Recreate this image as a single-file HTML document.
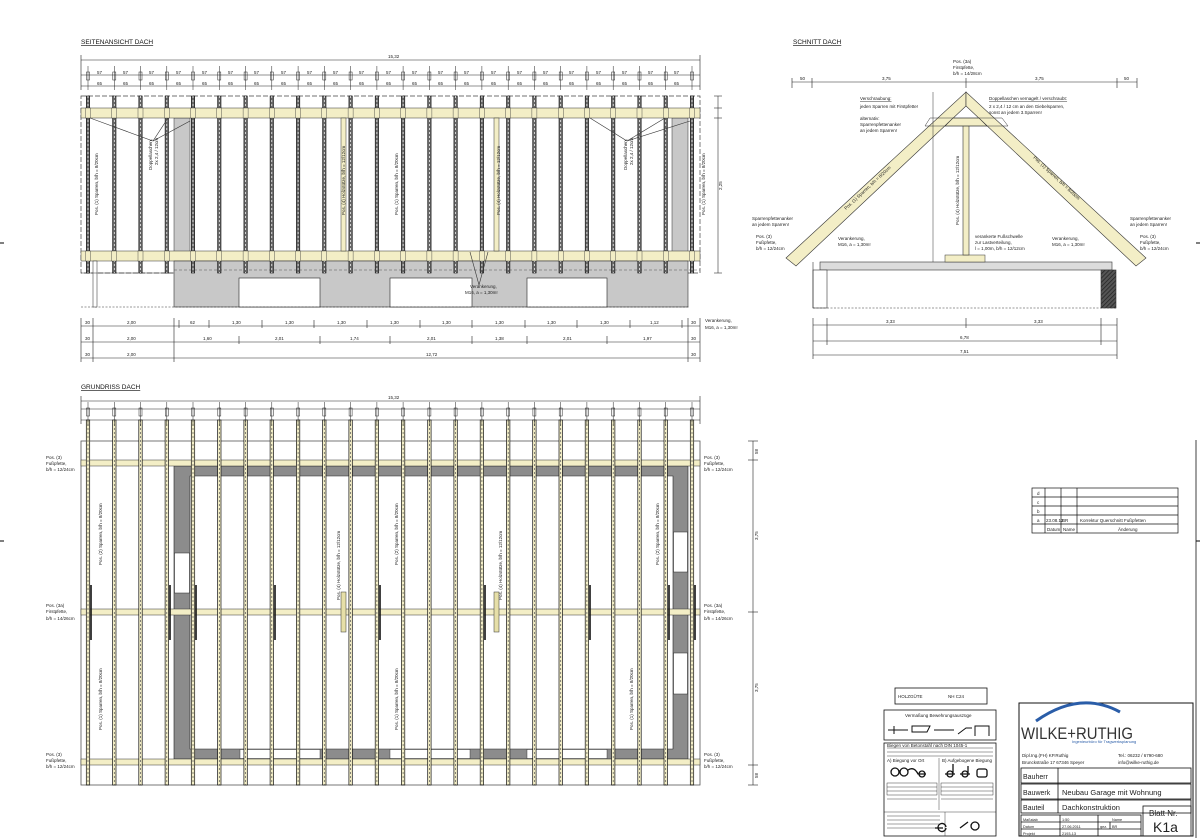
<!DOCTYPE html>
<html><head><meta charset="utf-8">
<style>
html,body{margin:0;padding:0;background:#fff;}
svg{display:block;font-family:"Liberation Sans",sans-serif;}
.t{font-size:4.5px;fill:#222;}
.h{font-size:6.5px;fill:#111;text-decoration:underline;}
</style></head><body>
<svg width="1200" height="838" viewBox="0 0 1200 838" xmlns="http://www.w3.org/2000/svg">
<defs>
<g id="raf">
 <rect x="-1.7" y="0" width="3.4" height="177" fill="#666" stroke="#111" stroke-width="0.6"/>
 <line x1="0" y1="0" x2="0" y2="177" stroke="#fff" stroke-width="0.7" stroke-dasharray="2,2"/>
 <rect x="-2.5" y="12" width="5" height="10" fill="#f3eec6" stroke="#333" stroke-width="0.4"/>
 <rect x="-2.5" y="155" width="5" height="10" fill="#f3eec6" stroke="#333" stroke-width="0.4"/>
</g>
<g id="rafg">
 <rect x="-1.7" y="0" width="3.4" height="365" fill="#f3eec6" stroke="#111" stroke-width="0.7"/>
 <line x1="0" y1="0" x2="0" y2="365" stroke="#555" stroke-width="0.7" stroke-dasharray="2,2"/>
</g>
<g id="tk">
 <line x1="0" y1="-4" x2="0" y2="20" stroke="#222" stroke-width="0.5"/>
 <rect x="-1.5" y="2" width="3" height="8" fill="none" stroke="#222" stroke-width="0.5"/>
</g>
<pattern id="hat" width="3" height="3" patternUnits="userSpaceOnUse" patternTransform="rotate(45)">
 <rect width="3" height="3" fill="#555"/><line x1="0" y1="0" x2="0" y2="3" stroke="#222" stroke-width="1.5"/>
</pattern>
</defs>

<line x1="0" y1="243" x2="4" y2="243" stroke="#000"/><line x1="0" y1="541" x2="4" y2="541" stroke="#000"/>
<line x1="1196" y1="243" x2="1200" y2="243" stroke="#000"/><line x1="1196" y1="541" x2="1200" y2="541" stroke="#000"/>

<!-- ============ SEITENANSICHT ============ -->
<text x="81" y="44" class="h">SEITENANSICHT DACH</text>
<g stroke="#222" stroke-width="0.6">
 <line x1="81" y1="60" x2="700" y2="60"/>
 <line x1="81" y1="75" x2="700" y2="75"/>
 <line x1="81" y1="86" x2="700" y2="86"/>
 <line x1="81" y1="55" x2="81" y2="90"/><line x1="700" y1="55" x2="700" y2="90"/>
</g>
<text x="388" y="58" class="t">15,32</text>
<rect x="81" y="96" width="619" height="177" fill="#fff" stroke="#444" stroke-width="0.7" stroke-dasharray="5,2"/>
<rect x="174" y="118" width="16" height="134" fill="#c8c8c8" stroke="#333" stroke-width="0.5"/>
<rect x="672" y="118" width="16" height="134" fill="#c8c8c8" stroke="#333" stroke-width="0.5"/>
<rect x="81" y="108" width="619" height="10" fill="#f3eec6" stroke="#333" stroke-width="0.5"/>
<rect x="81" y="251" width="619" height="10" fill="#f3eec6" stroke="#333" stroke-width="0.5"/>
<rect x="174" y="261" width="514" height="46" fill="#c8c8c8" stroke="#333" stroke-width="0.6"/>
<line x1="174" y1="270" x2="700" y2="270" stroke="#555" stroke-width="0.6" stroke-dasharray="3,2"/>
<rect x="239" y="278" width="81" height="29" fill="#fff" stroke="#222" stroke-width="0.6"/>
<rect x="390" y="278" width="82" height="29" fill="#fff" stroke="#222" stroke-width="0.6"/>
<rect x="527" y="278" width="80" height="29" fill="#fff" stroke="#222" stroke-width="0.6"/>
<line x1="81" y1="307" x2="690" y2="307" stroke="#333" stroke-width="0.6" stroke-dasharray="2,1.5"/>
<rect x="93" y="261" width="4" height="46" fill="#fff" stroke="#222" stroke-width="0.5"/>
<line x1="81" y1="273" x2="174" y2="273" stroke="#333" stroke-width="0.5"/>
<rect x="341" y="118" width="5" height="133" fill="#f3eec6" stroke="#333" stroke-width="0.5"/>
<rect x="494" y="118" width="5" height="133" fill="#f3eec6" stroke="#333" stroke-width="0.5"/>
<g>
<use href="#raf" x="88" y="96"/><use href="#raf" x="114.3" y="96"/><use href="#raf" x="140.5" y="96"/><use href="#raf" x="166.8" y="96"/>
<use href="#raf" x="193" y="96"/><use href="#raf" x="219.3" y="96"/><use href="#raf" x="245.6" y="96"/><use href="#raf" x="271.8" y="96"/>
<use href="#raf" x="298.1" y="96"/><use href="#raf" x="324.3" y="96"/><use href="#raf" x="350.6" y="96"/><use href="#raf" x="376.9" y="96"/>
<use href="#raf" x="403.1" y="96"/><use href="#raf" x="429.4" y="96"/><use href="#raf" x="455.6" y="96"/><use href="#raf" x="481.9" y="96"/>
<use href="#raf" x="508.2" y="96"/><use href="#raf" x="534.4" y="96"/><use href="#raf" x="560.7" y="96"/><use href="#raf" x="586.9" y="96"/>
<use href="#raf" x="613.2" y="96"/><use href="#raf" x="639.5" y="96"/><use href="#raf" x="665.7" y="96"/><use href="#raf" x="692" y="96"/>
</g>
<g>
<use href="#tk" x="88" y="70"/><use href="#tk" x="114.3" y="70"/><use href="#tk" x="140.5" y="70"/><use href="#tk" x="166.8" y="70"/>
<use href="#tk" x="193" y="70"/><use href="#tk" x="219.3" y="70"/><use href="#tk" x="245.6" y="70"/><use href="#tk" x="271.8" y="70"/>
<use href="#tk" x="298.1" y="70"/><use href="#tk" x="324.3" y="70"/><use href="#tk" x="350.6" y="70"/><use href="#tk" x="376.9" y="70"/>
<use href="#tk" x="403.1" y="70"/><use href="#tk" x="429.4" y="70"/><use href="#tk" x="455.6" y="70"/><use href="#tk" x="481.9" y="70"/>
<use href="#tk" x="508.2" y="70"/><use href="#tk" x="534.4" y="70"/><use href="#tk" x="560.7" y="70"/><use href="#tk" x="586.9" y="70"/>
<use href="#tk" x="613.2" y="70"/><use href="#tk" x="639.5" y="70"/><use href="#tk" x="665.7" y="70"/><use href="#tk" x="692" y="70"/>
</g>
<g class="t" font-size="4">
<text x="97" y="74">57</text><text x="123" y="74">57</text><text x="149" y="74">57</text><text x="176" y="74">57</text><text x="202" y="74">57</text><text x="228" y="74">57</text><text x="254" y="74">57</text><text x="281" y="74">57</text><text x="307" y="74">57</text><text x="333" y="74">57</text><text x="359" y="74">57</text><text x="386" y="74">57</text><text x="412" y="74">57</text><text x="438" y="74">57</text><text x="464" y="74">57</text><text x="491" y="74">57</text><text x="517" y="74">57</text><text x="543" y="74">57</text><text x="569" y="74">57</text><text x="596" y="74">57</text><text x="622" y="74">57</text><text x="648" y="74">57</text><text x="674" y="74">57</text>
<text x="97" y="85">65</text><text x="123" y="85">65</text><text x="149" y="85">65</text><text x="176" y="85">65</text><text x="202" y="85">65</text><text x="228" y="85">65</text><text x="254" y="85">65</text><text x="281" y="85">65</text><text x="307" y="85">65</text><text x="333" y="85">65</text><text x="359" y="85">65</text><text x="386" y="85">65</text><text x="412" y="85">65</text><text x="438" y="85">65</text><text x="464" y="85">65</text><text x="491" y="85">65</text><text x="517" y="85">65</text><text x="543" y="85">65</text><text x="569" y="85">65</text><text x="596" y="85">65</text><text x="622" y="85">65</text><text x="648" y="85">65</text><text x="674" y="85">65</text>
</g>
<g stroke="#333" stroke-width="0.6" fill="none">
<polyline points="90,118 153,141 168,118"/><line x1="153" y1="141" x2="190" y2="121"/>
<polyline points="590,118 627,141 665,118"/><line x1="627" y1="141" x2="690" y2="121"/>
<polyline points="470,252 479,285 488,252"/>
</g>
<g class="t">
<text transform="translate(98,215) rotate(-90)">Pos. (1) Sparren, b/h = 8/20cm</text>
<text transform="translate(152,170) rotate(-90)">Doppellaschen,</text>
<text transform="translate(158,165) rotate(-90)">2x 2,4 / 12cm</text>
<text transform="translate(345,215) rotate(-90)">Pos. (4) Holzstütze, b/h = 12/12cm</text>
<text transform="translate(398,215) rotate(-90)">Pos. (1) Sparren, b/h = 8/20cm</text>
<text transform="translate(500,215) rotate(-90)">Pos. (4) Holzstütze, b/h = 12/12cm</text>
<text transform="translate(627,170) rotate(-90)">Doppellaschen,</text>
<text transform="translate(633,165) rotate(-90)">2x 2,4 / 12cm</text>
<text transform="translate(705,215) rotate(-90)">Pos. (1) Sparren, b/h = 8/20cm</text>
<text x="470" y="288">Verankerung,</text><text x="465" y="294">M16, a = 1,30m!</text>
<text x="705" y="322">Verankerung,</text><text x="705" y="329">M16, a = 1,30m!</text>
</g>
<g stroke="#333" stroke-width="0.6"><line x1="718" y1="96" x2="718" y2="273"/><line x1="714" y1="96" x2="722" y2="96"/><line x1="714" y1="108" x2="722" y2="108"/><line x1="714" y1="118" x2="722" y2="118"/><line x1="714" y1="273" x2="722" y2="273"/></g>
<text transform="translate(722,190) rotate(-90)" class="t">2,25</text>
<g stroke="#222" stroke-width="0.6">
<line x1="81" y1="326" x2="700" y2="326"/><line x1="81" y1="342" x2="700" y2="342"/><line x1="81" y1="358" x2="700" y2="358"/>
<line x1="81" y1="318" x2="81" y2="362"/><line x1="93" y1="318" x2="93" y2="362"/><line x1="174" y1="318" x2="174" y2="362"/>
<line x1="688" y1="318" x2="688" y2="362"/><line x1="700" y1="318" x2="700" y2="362"/>
<line x1="179" y1="320" x2="179" y2="328"/><line x1="209" y1="320" x2="209" y2="328"/><line x1="262" y1="320" x2="262" y2="328"/><line x1="314" y1="320" x2="314" y2="328"/><line x1="367" y1="320" x2="367" y2="328"/><line x1="420" y1="320" x2="420" y2="328"/><line x1="472" y1="320" x2="472" y2="328"/><line x1="525" y1="320" x2="525" y2="328"/><line x1="577" y1="320" x2="577" y2="328"/><line x1="630" y1="320" x2="630" y2="328"/><line x1="682" y1="320" x2="682" y2="328"/>
<line x1="239" y1="336" x2="239" y2="344"/><line x1="320" y1="336" x2="320" y2="344"/><line x1="390" y1="336" x2="390" y2="344"/><line x1="472" y1="336" x2="472" y2="344"/><line x1="527" y1="336" x2="527" y2="344"/><line x1="607" y1="336" x2="607" y2="344"/>
</g>
<g class="t">
<text x="85" y="324">30</text><text x="127" y="324">2,00</text><text x="190" y="324">62</text><text x="232" y="324">1,30</text><text x="285" y="324">1,30</text><text x="337" y="324">1,30</text><text x="390" y="324">1,30</text><text x="442" y="324">1,30</text><text x="495" y="324">1,30</text><text x="547" y="324">1,30</text><text x="600" y="324">1,30</text><text x="650" y="324">1,12</text><text x="691" y="324">30</text>
<text x="85" y="340">30</text><text x="127" y="340">2,00</text><text x="203" y="340">1,60</text><text x="275" y="340">2,01</text><text x="350" y="340">1,74</text><text x="427" y="340">2,01</text><text x="495" y="340">1,38</text><text x="563" y="340">2,01</text><text x="643" y="340">1,97</text><text x="691" y="340">30</text>
<text x="85" y="356">30</text><text x="127" y="356">2,00</text><text x="426" y="356">12,72</text><text x="691" y="356">30</text>
</g>

<!-- ============ SCHNITT ============ -->
<text x="793" y="44" class="h">SCHNITT DACH</text>
<g stroke="#222" stroke-width="0.6">
<line x1="792" y1="82" x2="1137" y2="82"/><line x1="792" y1="78" x2="792" y2="88"/><line x1="812" y1="78" x2="812" y2="88"/><line x1="966" y1="78" x2="966" y2="88"/><line x1="1117" y1="78" x2="1117" y2="88"/><line x1="1137" y1="78" x2="1137" y2="88"/>
</g>
<g class="t"><text x="800" y="80">50</text><text x="882" y="80">3,75</text><text x="1035" y="80">3,75</text><text x="1124" y="80">50</text>
<text x="953" y="63">Pos. (3a)</text><text x="953" y="69">Firstpfette,</text><text x="953" y="75">b/h = 14/28cm</text></g>
<rect x="820" y="262" width="292" height="8" fill="#dcdcdc" stroke="#333" stroke-width="0.6"/>
<rect x="813" y="270" width="14" height="38" fill="#fff" stroke="#333" stroke-width="0.6"/>
<rect x="1101" y="270" width="15" height="38" fill="url(#hat)" stroke="#333" stroke-width="0.6"/>
<line x1="813" y1="308" x2="1116" y2="308" stroke="#333" stroke-width="0.6" stroke-dasharray="2,1.5"/>
<line x1="813" y1="262" x2="813" y2="308" stroke="#333" stroke-width="0.6"/>
<rect x="945" y="255" width="40" height="7" fill="#f3eec6" stroke="#333" stroke-width="0.5"/>
<rect x="963" y="125" width="6" height="130" fill="#f3eec6" stroke="#333" stroke-width="0.6"/>
<polygon points="786,258 966,92 966,106 796,266" fill="#f3eec6" stroke="#333" stroke-width="0.6"/>
<polygon points="1146,258 966,92 966,106 1136,266" fill="#f3eec6" stroke="#333" stroke-width="0.6"/>
<polygon points="953,118 979,118 987,126 945,126" fill="#f3eec6" stroke="#333" stroke-width="0.6"/>
<line x1="930" y1="118" x2="1002" y2="118" stroke="#333" stroke-width="0.5"/><line x1="925" y1="126" x2="1008" y2="126" stroke="#333" stroke-width="0.5"/>
<line x1="930" y1="118" x2="925" y2="126" stroke="#333" stroke-width="0.5"/><line x1="1002" y1="118" x2="1008" y2="126" stroke="#333" stroke-width="0.5"/>
<line x1="933" y1="92" x2="933" y2="262" stroke="#333" stroke-width="0.5"/>
<g class="t">
<text x="860" y="100" text-decoration="underline">Verschraubung:</text><text x="860" y="108">jeden Sparren mit Firstpfette!</text>
<text x="860" y="120">alternativ:</text><text x="860" y="126">Sparrenpfettenanker</text><text x="860" y="132">an jedem Sparren!</text>
<text x="989" y="100" text-decoration="underline">Doppellaschen vernagelt / verschraubt:</text><text x="989" y="108">2 x 2,4 / 12 cm an den Giebelsparren,</text><text x="989" y="114">sonst an jedem 3.Sparren!</text>
<text transform="translate(846,210) rotate(-43)">Pos. (1) Sparren, b/h = 8/20cm</text>
<text transform="translate(1033,158) rotate(43)">Pos. (1) Sparren, b/h = 8/20cm</text>
<text transform="translate(959,225) rotate(-90)">Pos. (4) Holzstütze, b/h = 12/12cm</text>
<text x="752" y="220">Sparrenpfettenanker</text><text x="752" y="226">an jedem Sparren!</text>
<text x="756" y="238">Pos. (3)</text><text x="756" y="244">Fußpfette,</text><text x="756" y="250">b/h = 12/24cm</text>
<text x="838" y="240">Verankerung,</text><text x="838" y="246">M16, a = 1,30m!</text>
<text x="975" y="238">verankerte Fußschwelle</text><text x="975" y="244">zur Lastverteilung,</text><text x="975" y="250">l = 1,00m, b/h = 12/12cm</text>
<text x="1052" y="240">Verankerung,</text><text x="1052" y="246">M16, a = 1,30m!</text>
<text x="1130" y="220">Sparrenpfettenanker</text><text x="1130" y="226">an jedem Sparren!</text>
<text x="1140" y="238">Pos. (3)</text><text x="1140" y="244">Fußpfette,</text><text x="1140" y="250">b/h = 12/24cm</text>
</g>
<g stroke="#222" stroke-width="0.6">
<line x1="813" y1="325" x2="1117" y2="325"/><line x1="813" y1="341" x2="1117" y2="341"/><line x1="813" y1="355" x2="1117" y2="355"/>
<line x1="813" y1="318" x2="813" y2="359"/><line x1="827" y1="318" x2="827" y2="345"/><line x1="966" y1="318" x2="966" y2="328"/><line x1="1101" y1="318" x2="1101" y2="345"/><line x1="1117" y1="318" x2="1117" y2="359"/>
</g>
<g class="t"><text x="886" y="323">3,33</text><text x="1034" y="323">3,33</text><text x="960" y="339">6,78</text><text x="960" y="353">7,51</text></g>

<!-- ============ GRUNDRISS ============ -->
<text x="81" y="389" class="h">GRUNDRISS DACH</text>
<g stroke="#222" stroke-width="0.6">
 <line x1="81" y1="401" x2="700" y2="401"/><line x1="81" y1="409" x2="700" y2="409"/><line x1="81" y1="420" x2="700" y2="420"/>
 <line x1="81" y1="396" x2="81" y2="424"/><line x1="700" y1="396" x2="700" y2="424"/>
</g>
<text x="388" y="399" class="t">15,32</text>
<rect x="81" y="441" width="619" height="344" fill="#fff" stroke="#555" stroke-width="0.8"/>
<path d="M174,466 H688 V759 H174 Z M190,476 V749 H673 V476 Z" fill="#8c8c8c" fill-rule="evenodd" stroke="#222" stroke-width="0.6"/>
<rect x="174.5" y="553" width="15" height="40" fill="#fff" stroke="#222" stroke-width="0.5"/>
<rect x="673.5" y="532" width="14" height="40" fill="#fff" stroke="#222" stroke-width="0.5"/>
<rect x="673.5" y="653" width="14" height="41" fill="#fff" stroke="#222" stroke-width="0.5"/>
<rect x="240" y="749.5" width="80" height="9" fill="#fff" stroke="#222" stroke-width="0.4"/>
<rect x="390" y="749.5" width="80" height="9" fill="#fff" stroke="#222" stroke-width="0.4"/>
<rect x="527" y="749.5" width="80" height="9" fill="#fff" stroke="#222" stroke-width="0.4"/>
<rect x="81" y="460" width="619" height="6" fill="#f3eec6" stroke="#333" stroke-width="0.5"/>
<rect x="81" y="609" width="619" height="6" fill="#f3eec6" stroke="#333" stroke-width="0.5"/>
<rect x="81" y="759" width="619" height="6" fill="#f3eec6" stroke="#333" stroke-width="0.5"/>
<g>
<use href="#rafg" x="88" y="420"/><use href="#rafg" x="114.3" y="420"/><use href="#rafg" x="140.5" y="420"/><use href="#rafg" x="166.8" y="420"/>
<use href="#rafg" x="193" y="420"/><use href="#rafg" x="219.3" y="420"/><use href="#rafg" x="245.6" y="420"/><use href="#rafg" x="271.8" y="420"/>
<use href="#rafg" x="298.1" y="420"/><use href="#rafg" x="324.3" y="420"/><use href="#rafg" x="350.6" y="420"/><use href="#rafg" x="376.9" y="420"/>
<use href="#rafg" x="403.1" y="420"/><use href="#rafg" x="429.4" y="420"/><use href="#rafg" x="455.6" y="420"/><use href="#rafg" x="481.9" y="420"/>
<use href="#rafg" x="508.2" y="420"/><use href="#rafg" x="534.4" y="420"/><use href="#rafg" x="560.7" y="420"/><use href="#rafg" x="586.9" y="420"/>
<use href="#rafg" x="613.2" y="420"/><use href="#rafg" x="639.5" y="420"/><use href="#rafg" x="665.7" y="420"/><use href="#rafg" x="692" y="420"/>
</g>
<g>
<use href="#tk" x="88" y="406"/><use href="#tk" x="114.3" y="406"/><use href="#tk" x="140.5" y="406"/><use href="#tk" x="166.8" y="406"/>
<use href="#tk" x="193" y="406"/><use href="#tk" x="219.3" y="406"/><use href="#tk" x="245.6" y="406"/><use href="#tk" x="271.8" y="406"/>
<use href="#tk" x="298.1" y="406"/><use href="#tk" x="324.3" y="406"/><use href="#tk" x="350.6" y="406"/><use href="#tk" x="376.9" y="406"/>
<use href="#tk" x="403.1" y="406"/><use href="#tk" x="429.4" y="406"/><use href="#tk" x="455.6" y="406"/><use href="#tk" x="481.9" y="406"/>
<use href="#tk" x="508.2" y="406"/><use href="#tk" x="534.4" y="406"/><use href="#tk" x="560.7" y="406"/><use href="#tk" x="586.9" y="406"/>
<use href="#tk" x="613.2" y="406"/><use href="#tk" x="639.5" y="406"/><use href="#tk" x="665.7" y="406"/><use href="#tk" x="692" y="406"/>
</g>
<g stroke="#111" stroke-width="1.6">
<line x1="91" y1="585" x2="91" y2="640"/><line x1="170" y1="585" x2="170" y2="640"/><line x1="196" y1="585" x2="196" y2="640"/><line x1="275" y1="585" x2="275" y2="640"/><line x1="380" y1="585" x2="380" y2="640"/><line x1="485" y1="585" x2="485" y2="640"/><line x1="590" y1="585" x2="590" y2="640"/><line x1="669" y1="585" x2="669" y2="640"/><line x1="695" y1="585" x2="695" y2="640"/>
</g>
<rect x="341" y="592" width="5" height="40" fill="#e6dfa8" stroke="#333" stroke-width="0.5"/>
<rect x="494" y="592" width="5" height="40" fill="#e6dfa8" stroke="#333" stroke-width="0.5"/>
<g class="t">
<text transform="translate(102,565) rotate(-90)">Pos. (2) Sparren, b/h = 8/20cm</text>
<text transform="translate(102,730) rotate(-90)">Pos. (1) Sparren, b/h = 8/20cm</text>
<text transform="translate(340,600) rotate(-90)">Pos. (4) Holzstütze, b/h = 12/12cm</text>
<text transform="translate(398,565) rotate(-90)">Pos. (2) Sparren, b/h = 8/20cm</text>
<text transform="translate(398,730) rotate(-90)">Pos. (1) Sparren, b/h = 8/20cm</text>
<text transform="translate(502,600) rotate(-90)">Pos. (4) Holzstütze, b/h = 12/12cm</text>
<text transform="translate(659,565) rotate(-90)">Pos. (2) Sparren, b/h = 8/20cm</text>
<text transform="translate(633,730) rotate(-90)">Pos. (1) Sparren, b/h = 8/20cm</text>
<text x="46" y="459">Pos. (3)</text><text x="46" y="465">Fußpfette,</text><text x="46" y="471">b/h = 12/24cm</text>
<text x="46" y="607">Pos. (3a)</text><text x="46" y="613">Firstpfette,</text><text x="46" y="620">b/h = 14/26cm</text>
<text x="46" y="756">Pos. (3)</text><text x="46" y="762">Fußpfette,</text><text x="46" y="768">b/h = 12/24cm</text>
<text x="704" y="459">Pos. (3)</text><text x="704" y="465">Fußpfette,</text><text x="704" y="471">b/h = 12/24cm</text>
<text x="704" y="607">Pos. (3a)</text><text x="704" y="613">Firstpfette,</text><text x="704" y="620">b/h = 14/26cm</text>
<text x="704" y="756">Pos. (3)</text><text x="704" y="762">Fußpfette,</text><text x="704" y="768">b/h = 12/24cm</text>
</g>
<g stroke="#222" stroke-width="0.6"><line x1="753" y1="441" x2="753" y2="785"/><line x1="748" y1="441" x2="758" y2="441"/><line x1="748" y1="460" x2="758" y2="460"/><line x1="748" y1="612" x2="758" y2="612"/><line x1="748" y1="765" x2="758" y2="765"/><line x1="748" y1="785" x2="758" y2="785"/></g>
<g class="t"><text transform="translate(758,454) rotate(-90)">58</text><text transform="translate(758,540) rotate(-90)">3,75</text><text transform="translate(758,692) rotate(-90)">3,75</text><text transform="translate(758,778) rotate(-90)">58</text></g>

<!-- ============ REVISION TABLE ============ -->
<g stroke="#111" stroke-width="0.7" fill="none">
<rect x="1032" y="488" width="146" height="45"/>
<line x1="1032" y1="497" x2="1178" y2="497"/><line x1="1032" y1="506" x2="1178" y2="506"/><line x1="1032" y1="515" x2="1178" y2="515"/><line x1="1032" y1="524" x2="1178" y2="524"/>
<line x1="1045" y1="488" x2="1045" y2="533"/><line x1="1061" y1="488" x2="1061" y2="533"/><line x1="1077" y1="488" x2="1077" y2="533"/>
</g>
<g class="t" font-size="3.8"><text x="1037" y="495">d</text><text x="1037" y="504">c</text><text x="1037" y="513">b</text><text x="1037" y="522">a</text><text x="1046" y="522">23.08.12</text><text x="1062" y="522">BR</text><text x="1080" y="522">Korrektur Querschnitt Fußpfetten</text><text x="1047" y="531">Datum</text><text x="1063" y="531">Name</text><text x="1118" y="531">Änderung</text></g>
<line x1="1196" y1="440" x2="1196" y2="838" stroke="#111" stroke-width="0.8"/>

<!-- ============ LEGEND BOXES ============ -->
<rect x="895" y="688" width="92" height="16" fill="#fff" stroke="#111" stroke-width="0.8"/>
<text x="898" y="698" class="t" font-size="4.5">HOLZGÜTE</text><text x="948" y="698" class="t" font-size="4.5">NH C24</text>
<rect x="884" y="710" width="112" height="30" fill="#fff" stroke="#111" stroke-width="0.8"/>
<text x="905" y="717" class="t" font-size="4.5">Vermaßung Bewehrungsauszüge</text>
<g stroke="#111" stroke-width="1" fill="none"><path d="M888,730 h20 M894,726 v8 M912,726 h18 l-3,6 h-15z M934,730 h20 M958,734 l8,-6 h6 M975,736 v-10 h14 v10"/></g>
<rect x="884" y="743" width="112" height="93" fill="#fff" stroke="#111" stroke-width="0.8"/>
<g stroke="#111" stroke-width="0.4" fill="none">
<line x1="887" y1="748" x2="993" y2="748"/><line x1="887" y1="752" x2="993" y2="752"/><line x1="887" y1="756" x2="993" y2="756"/>
<line x1="939" y1="758" x2="939" y2="810"/>
<rect x="887" y="783" width="50" height="12"/><rect x="941" y="783" width="52" height="12"/>
<line x1="887" y1="787" x2="937" y2="787"/><line x1="887" y1="791" x2="937" y2="791"/><line x1="941" y1="787" x2="993" y2="787"/><line x1="941" y1="791" x2="993" y2="791"/>
<line x1="887" y1="799" x2="937" y2="799"/><line x1="941" y1="799" x2="993" y2="799"/>
<line x1="884" y1="812" x2="996" y2="812"/><line x1="945" y1="812" x2="945" y2="836"/>
<line x1="887" y1="816" x2="940" y2="816"/><line x1="887" y1="820" x2="940" y2="820"/><line x1="887" y1="824" x2="940" y2="824"/><line x1="887" y1="828" x2="940" y2="828"/>
</g>
<g stroke="#111" stroke-width="1.3" fill="none">
<circle cx="895" cy="772" r="4"/><circle cx="904" cy="772" r="4"/><path d="M908,770 q6,-4 10,4 h8"/><circle cx="922" cy="774" r="3"/>
<circle cx="950" cy="774" r="3"/><path d="M945,774 h10 M953,764 v10"/><circle cx="965" cy="774" r="3"/><path d="M960,774 h10 M968,766 v8"/><rect x="977" y="769" width="10" height="8" rx="2"/>
<path d="M935,828 h8 M946,828 a4,4 0 1 1 0,-1 M960,828 l8,-6"/>
<circle cx="975" cy="826" r="4"/>
</g>
<g class="t" font-size="3.5"><text x="887" y="747">Biegen von Betonstahl nach DIN 1045-1</text><text x="887" y="762">A) Biegung vor Ort</text><text x="942" y="762">B) Aufgebogene Biegung</text></g>

<!-- ============ TITLE BLOCK ============ -->
<rect x="1019" y="703" width="174" height="133" fill="#fff" stroke="#111" stroke-width="1"/>
<path d="M1036,721 Q1080,690 1120,712" fill="none" stroke="#2a5da8" stroke-width="3"/>
<text x="1021" y="739" font-size="17" fill="#333" font-family="Liberation Sans,sans-serif" textLength="112" lengthAdjust="spacingAndGlyphs">WILKE+RUTHIG</text>
<text x="1072" y="743" font-size="4" fill="#2a5da8">Ingenieurbüro für Tragwerksplanung</text>
<g class="t" font-size="4.8"><text x="1022" y="757">Dipl.Ing.(FH) KP.Ruthig</text><text x="1022" y="764">Brunckstraße 17 67346 Speyer</text><text x="1118" y="757">Tel.: 06232 / 6790-680</text><text x="1118" y="764">info@wilke-ruthig.de</text></g>
<g stroke="#111" stroke-width="0.8" fill="none">
<rect x="1021" y="768" width="170" height="15"/><rect x="1021" y="784" width="170" height="15"/><rect x="1021" y="800" width="170" height="13"/>
<line x1="1058" y1="768" x2="1058" y2="813"/>
<rect x="1021" y="815" width="120" height="21"/>
<line x1="1021" y1="822" x2="1141" y2="822"/><line x1="1021" y1="829" x2="1141" y2="829"/>
<line x1="1060" y1="815" x2="1060" y2="836"/><line x1="1098" y1="815" x2="1098" y2="836"/><line x1="1110" y1="822" x2="1110" y2="829"/>
<rect x="1143" y="806" width="48" height="30"/>
</g>
<g font-family="Liberation Sans,sans-serif" fill="#222">
<text x="1023" y="779" font-size="7">Bauherr</text><text x="1023" y="795" font-size="7">Bauwerk</text><text x="1023" y="810" font-size="7">Bauteil</text>
<text x="1062" y="795" font-size="7.5">Neubau Garage mit Wohnung</text><text x="1062" y="810" font-size="7.5">Dachkonstruktion</text>
<text x="1023" y="821" font-size="3.8">Maßstab</text><text x="1023" y="828" font-size="3.8">Datum</text><text x="1023" y="835" font-size="3.8">Projekt</text>
<text x="1062" y="821" font-size="3.8">1:50</text><text x="1062" y="828" font-size="3.8">27.06.2011</text><text x="1062" y="835" font-size="3.8">2193-13</text>
<text x="1112" y="821" font-size="3.8">Name</text><text x="1100" y="828" font-size="3.8">gez.</text><text x="1112" y="828" font-size="3.8">BR</text>
<text x="1149" y="816" font-size="8">Blatt Nr.</text><text x="1153" y="832" font-size="14">K1a</text>
</g>
</svg>
</body></html>
